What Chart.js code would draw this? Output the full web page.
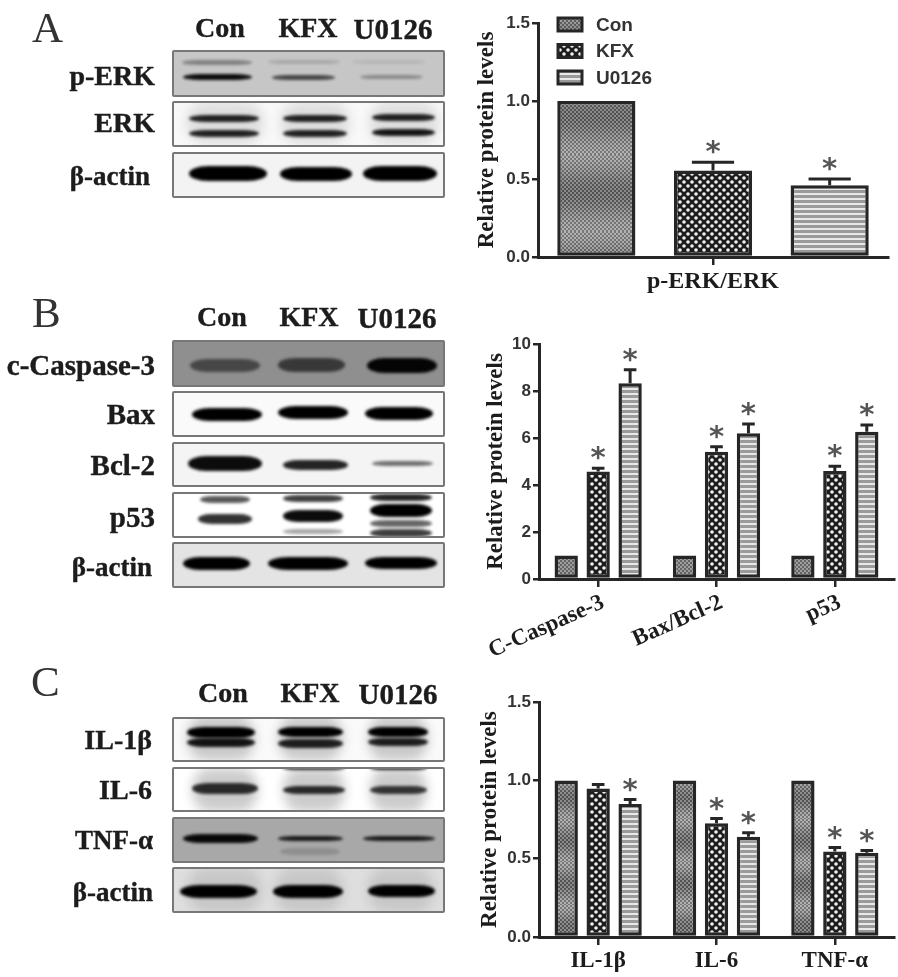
<!DOCTYPE html>
<html>
<head>
<meta charset="utf-8">
<title>Protein levels</title>
<script src="https://cdn.jsdelivr.net/npm/chart.js@4/dist/chart.umd.min.js"></script>
<style>
    html, body { margin: 0; background: #fff; }
    #page { position: relative; width: 898px; height: 977px; overflow: hidden; filter: blur(0.5px); }
    #page canvas { position: absolute; }
    .txt { position: absolute; font-family: "Liberation Serif", serif; font-weight: bold; color: #1c1c1c; white-space: nowrap; line-height: 1; -webkit-text-stroke: 0.4px #1c1c1c; }
    .letter { position: absolute; font-family: "Liberation Serif", serif; color: #333; line-height: 1; font-size: 43px; }
    .panel { position: absolute; overflow: hidden; box-sizing: border-box; border: 2px solid #777; border-radius: 2px; }
    .band { position: absolute; border-radius: 25% / 50%; background: #000; }
</style>
</head>
<body>
<div id="page">
    <canvas id="chartA"></canvas>
    <canvas id="chartB"></canvas>
    <canvas id="chartC"></canvas>
</div>
<script>
// panel A
const groupsA = ["p-ERK/ERK"];
const conA = [1];
const kfxA = [0.555];
const u0126A = [0.46];
const conErrA = [0];
const kfxErrA = [0.052];
const u0126ErrA = [0.04];
const kfxStarA = [1];
const u0126StarA = [1];
const yTicksA = [0, 0.5, 1, 1.5];

// panel B
const groupsB = ["C-Caspase-3", "Bax/Bcl-2", "p53"];
const conB = [1, 1, 1];
const kfxB = [4.57, 5.42, 4.6];
const u0126B = [8.33, 6.2, 6.27];
const conErrB = [0, 0, 0];
const kfxErrB = [0.14, 0.21, 0.2];
const u0126ErrB = [0.57, 0.4, 0.28];
const kfxStarB = [1, 1, 1];
const u0126StarB = [1, 1, 1];
const yTicksB = [0, 2, 4, 6, 8, 10];

// panel C
const groupsC = ["IL-1β", "IL-6", "TNF-α"];
const conC = [1, 1, 1];
const kfxC = [0.948, 0.726, 0.547];
const u0126C = [0.849, 0.64, 0.539];
const conErrC = [0, 0, 0];
const kfxErrC = [0.026, 0.031, 0.024];
const u0126ErrC = [0.029, 0.026, 0.013];
const kfxStarC = [0, 1, 1];
const u0126StarC = [1, 1, 1];
const yTicksC = [0, 0.5, 1, 1.5];

const seriesNames = ["Con", "KFX", "U0126"];

const ink = "#262626";

// blot artwork, not chart data: panel box, background, then bands as x, y, w, h, darkness
const blots = [
    [172, 50, 273, 47, "#c6c6c6", [[182,62,70,5,.35],[268,62,72,4,.15],[353,62,72,4,.08],[183,77,69,6,.95],[272,77,63,5,.65],[360,77,63,4,.3]]],
    [172, 101, 273, 46, "#f8f8f8", [[186,123,78,42,.1],[280,123,70,42,.1],[369,123,70,42,.1],[189,118,70,7,.85],[283,118,64,7,.85],[372,117,63,7,.85],[189,133,70,7,.85],[283,133,64,7,.85],[372,132,63,7,.9]]],
    [172, 152, 273, 46, "#f3f3f3", [[189,173,78,15,1],[280,174,72,14,1],[363,173,74,15,1]]],

    [172, 340, 273, 47, "#8f8f8f", [[190,365,70,13,.5],[278,365,67,14,.6],[367,365,70,15,.97]]],
    [172, 391, 273, 46, "#fafafa", [[192,414,70,13,1],[278,412,70,13,1],[365,413,68,13,1]]],
    [172, 442, 273, 45, "#f4f4f4", [[188,463,74,15,.95],[283,465,65,10,.85],[372,463,61,5,.55]]],
    [172, 492, 273, 46, "#ffffff", [[200,499,50,7,.65],[198,519,54,10,.8],[283,498,60,7,.75],[283,516,60,12,.95],[283,531,60,5,.35],[370,497,62,7,.85],[370,510,62,13,1],[370,523,62,7,.6],[370,533,62,8,.75]]],
    [172, 542, 273, 46, "#e4e4e4", [[183,563,67,13,1],[268,563,80,13,1],[365,563,72,12,1]]],

    [172, 717, 273, 45, "#fafafa", [[187,738,68,44,.2],[278,738,65,44,.2],[368,738,60,44,.2],[187,732,68,11,1],[278,732,65,10,1],[368,732,60,10,1],[187,742,68,9,.9],[278,743,65,9,.85],[368,742,60,8,.85]]],
    [172, 767, 273, 45, "#ffffff", [[192,790,66,44,.2],[283,790,62,44,.2],[370,790,57,44,.2],[192,788,66,11,.8],[283,790,62,8,.8],[370,790,57,8,.75],[283,768,62,4,.8],[370,768,57,4,.85]]],
    [172, 817, 273, 46, "#a8a8a8", [[183,838,75,9,.95],[278,838,65,5,.85],[363,838,72,5,.85],[280,851,60,7,.15]]],
    [172, 867, 273, 46, "#dedede", [[187,890,75,44,.1],[275,890,68,44,.1],[368,890,66,44,.1],[180,891,77,13,1],[273,891,70,13,1],[368,891,67,12,1]]]
];

// text around the blots: string, anchor x, centre y, align, size
const blotLabels = [
    ["Con", 220, 28, "center", 28], ["KFX", 308, 28, "center", 28], ["U0126", 393, 29, "center", 29],
    ["p-ERK", 155, 76, "right", 28], ["ERK", 155, 123, "right", 28], ["β-actin", 150, 176, "right", 27],

    ["Con", 222, 317, "center", 28], ["KFX", 309, 317, "center", 28], ["U0126", 397, 318, "center", 29],
    ["c-Caspase-3", 155, 365, "right", 29], ["Bax", 155, 414, "right", 29], ["Bcl-2", 155, 465, "right", 29],
    ["p53", 155, 517, "right", 29], ["β-actin", 152, 567, "right", 27],

    ["Con", 223, 693, "center", 28], ["KFX", 310, 693, "center", 28], ["U0126", 398, 694, "center", 29],
    ["IL-1β", 152, 740, "right", 28], ["IL-6", 152, 790, "right", 28], ["TNF-α", 153, 840, "right", 27],
    ["β-actin", 153, 892, "right", 27]
];

const panelLetters = [["A", 32, 6], ["B", 32, 291], ["C", 31, 660]];

function buildBlots() {
    const page = document.getElementById("page");
    blots.forEach(b => {
        const panel = document.createElement("div");
        panel.className = "panel";
        panel.style.cssText = `left:${b[0]}px;top:${b[1]}px;width:${b[2]}px;height:${b[3]}px;background:${b[4]}`;
        b[5].forEach(r => {
            const band = document.createElement("div");
            band.className = "band";
            const blur = r[3] > 30 ? 6 : 1.6;
            band.style.cssText = `left:${r[0] - b[0] - 2}px;top:${r[1] - r[3] / 2 - b[1] - 2}px;width:${r[2]}px;height:${r[3]}px;opacity:${r[4]};filter:blur(${blur}px)`;
            panel.appendChild(band);
        });
        page.appendChild(panel);
    });
    blotLabels.forEach(l => {
        const t = document.createElement("div");
        t.className = "txt";
        t.textContent = l[0];
        const shift = l[3] === "right" ? "-100%" : "-50%";
        t.style.cssText = `left:${l[1]}px;top:${l[2]}px;font-size:${l[4]}px;transform:translate(${shift},-50%)`;
        page.appendChild(t);
    });
    panelLetters.forEach(l => {
        const t = document.createElement("div");
        t.className = "letter";
        t.textContent = l[0];
        t.style.left = l[1] + "px";
        t.style.top = l[2] + "px";
        page.appendChild(t);
    });
}

// Con fill: fine checker, the scan left slow light and dark bands in the tall bars
function conPattern(period) {
    const c = document.createElement("canvas");
    c.width = 4;
    c.height = period;
    const g = c.getContext("2d");
    for (let y = 0; y < period; y++) {
        const shade = period > 8 ? 20 * Math.cos(2 * Math.PI * y / period) : 0;
        for (let x = 0; x < 4; x++) {
            const odd = (Math.floor(x / 2) + Math.floor(y / 2)) % 2;
            const v = Math.round((odd ? 158 : 100) + shade);
            g.fillStyle = `rgb(${v},${v},${v})`;
            g.fillRect(x, y, 1, 1);
        }
    }
    return g.createPattern(c, "repeat");
}

function kfxPattern() {
    const c = document.createElement("canvas");
    c.width = 8;
    c.height = 8;
    const g = c.getContext("2d");
    g.fillStyle = "#1c1c1c";
    g.fillRect(0, 0, 8, 8);
    g.fillStyle = "#f2f2f2";
    [[2, 2], [6, 6]].forEach(p => {
        g.beginPath();
        g.arc(p[0], p[1], 1.8, 0, Math.PI * 2);
        g.fill();
    });
    return g.createPattern(c, "repeat");
}

function u0126Pattern() {
    const c = document.createElement("canvas");
    c.width = 2;
    c.height = 5;
    const g = c.getContext("2d");
    g.fillStyle = "#e8e8e8";
    g.fillRect(0, 0, 2, 5);
    g.fillStyle = "#9a9a9a";
    g.fillRect(0, 0, 2, 3);
    return g.createPattern(c, "repeat");
}

// upper error bars and the * above them
const errorStars = {
    id: "errorStars",
    afterDatasetsDraw(chart) {
        const ctx = chart.ctx;
        const y = chart.scales.y;
        chart.data.datasets.forEach((ds, i) => {
            chart.getDatasetMeta(i).data.forEach((bar, j) => {
                const err = ds.err[j];
                const top = y.getPixelForValue(ds.data[j] + err);
                ctx.save();
                if (err > 0) {
                    const half = bar.width * 0.27;
                    ctx.strokeStyle = ink;
                    ctx.lineWidth = 3;
                    ctx.beginPath();
                    ctx.moveTo(bar.x, bar.y);
                    ctx.lineTo(bar.x, top);
                    ctx.moveTo(bar.x - half, top);
                    ctx.lineTo(bar.x + half, top);
                    ctx.stroke();
                }
                if (ds.star && ds.star[j]) {
                    ctx.fillStyle = "#555";
                    ctx.font = "bold 29px 'DejaVu Sans'";
                    ctx.textAlign = "center";
                    ctx.textBaseline = "alphabetic";
                    const m = ctx.measureText("*");
                    const mid = (m.actualBoundingBoxAscent - m.actualBoundingBoxDescent) / 2;
                    ctx.fillText("*", bar.x, top - 15 + mid);
                }
                ctx.restore();
            });
        });
    }
};

// legend in panel A, boxes filled with the same dataset patterns
const patternLegend = {
    id: "patternLegend",
    afterDraw(chart, args, opts) {
        if (!opts.show) return;
        const ctx = chart.ctx;
        ctx.save();
        chart.data.datasets.forEach((ds, i) => {
            const top = opts.top + i * opts.step;
            ctx.fillStyle = ds.backgroundColor;
            ctx.strokeStyle = ink;
            ctx.lineWidth = 3;
            ctx.fillRect(opts.left, top, opts.boxW, opts.boxH);
            ctx.strokeRect(opts.left, top, opts.boxW, opts.boxH);
            ctx.fillStyle = "#333";
            ctx.font = "bold 19px 'Liberation Sans'";
            ctx.textBaseline = "middle";
            ctx.fillText(ds.label, opts.left + opts.boxW + 14, top + opts.boxH / 2 + 1);
        });
        ctx.restore();
    }
};

function drawPanel(id, p) {
    const canvas = document.getElementById(id);
    canvas.style.left = p.left + "px";
    canvas.style.top = p.top + "px";
    canvas.width = p.width;
    canvas.height = p.height;

    const fills = [conPattern(p.conPeriod), kfxPattern(), u0126Pattern()];
    const datasets = p.series.map((values, i) => ({
        label: seriesNames[i],
        data: values,
        err: p.errors[i],
        star: p.stars[i],
        backgroundColor: fills[i],
        borderColor: ink,
        borderWidth: 3.5,
        borderSkipped: false,
        categoryPercentage: p.catPct,
        barPercentage: p.barPct
    }));

    new Chart(canvas, {
        type: "bar",
        data: { labels: p.labels, datasets: datasets },
        plugins: [errorStars, patternLegend],
        options: {
            responsive: false,
            animation: false,
            layout: { padding: { left: 0, top: p.areaTop, right: p.padRight, bottom: 0 } },
            plugins: {
                legend: { display: false },
                tooltip: { enabled: false },
                patternLegend: p.legend
            },
            scales: {
                x: {
                    afterFit: s => { s.height = p.height - p.areaBottom; },
                    border: { color: ink, width: 3 },
                    grid: { offset: false, drawOnChartArea: false, color: ink, lineWidth: 2.5, tickLength: 8 },
                    ticks: {
                        autoSkip: false,
                        color: "#1c1c1c",
                        padding: p.xPad,
                        minRotation: p.rotation,
                        maxRotation: p.rotation,
                        labelOffset: p.rotation ? 5 : 0,
                        font: { family: "'Liberation Serif'", weight: "bold", size: p.xFont }
                    }
                },
                y: {
                    min: 0,
                    max: p.yTicks[p.yTicks.length - 1],
                    afterFit: s => { s.width = p.axisX; },
                    afterBuildTicks: s => { s.ticks = p.yTicks.map(v => ({ value: v })); },
                    border: { color: ink, width: 3 },
                    grid: { drawOnChartArea: false, color: ink, lineWidth: 2.5, tickLength: 6 },
                    ticks: {
                        color: "#333",
                        padding: 2,
                        callback: v => v.toFixed(p.decimals),
                        font: { family: "'Liberation Sans'", weight: "bold", size: 17 }
                    },
                    title: {
                        display: true,
                        text: "Relative protein levels",
                        color: "#1c1c1c",
                        padding: { top: p.titlePad, bottom: 0 },
                        font: { family: "'Liberation Serif'", weight: "bold", size: 23 }
                    }
                }
            }
        }
    });
}

buildBlots();

drawPanel("chartA", {
    left: 470, top: 0, width: 428, height: 300,
    axisX: 68, areaTop: 23, areaBottom: 257, padRight: 10,
    labels: groupsA, series: [conA, kfxA, u0126A], errors: [conErrA, kfxErrA, u0126ErrA],
    stars: [null, kfxStarA, u0126StarA], yTicks: yTicksA, decimals: 1,
    catPct: 1, barPct: 0.67, conPeriod: 77, rotation: 0, xFont: 24, xPad: 2, titlePad: 3,
    legend: { show: true, left: 88, top: 18, step: 26.5, boxW: 24, boxH: 13 }
});

drawPanel("chartB", {
    left: 470, top: 330, width: 428, height: 345,
    axisX: 69, areaTop: 14, areaBottom: 249, padRight: 4,
    labels: groupsB, series: [conB, kfxB, u0126B], errors: [conErrB, kfxErrB, u0126ErrB],
    stars: [null, kfxStarB, u0126StarB], yTicks: yTicksB, decimals: 0,
    catPct: 0.81, barPct: 0.73, conPeriod: 4, rotation: 24, xFont: 23, xPad: 2, titlePad: 12,
    legend: { show: false }
});

drawPanel("chartC", {
    left: 470, top: 690, width: 428, height: 287,
    axisX: 69, areaTop: 12, areaBottom: 247, padRight: 4,
    labels: groupsC, series: [conC, kfxC, u0126C], errors: [conErrC, kfxErrC, u0126ErrC],
    stars: [null, kfxStarC, u0126StarC], yTicks: yTicksC, decimals: 1,
    catPct: 0.81, barPct: 0.73, conPeriod: 43, rotation: 0, xFont: 23, xPad: 2, titlePad: 6,
    legend: { show: false }
});
</script>
</body>
</html>
